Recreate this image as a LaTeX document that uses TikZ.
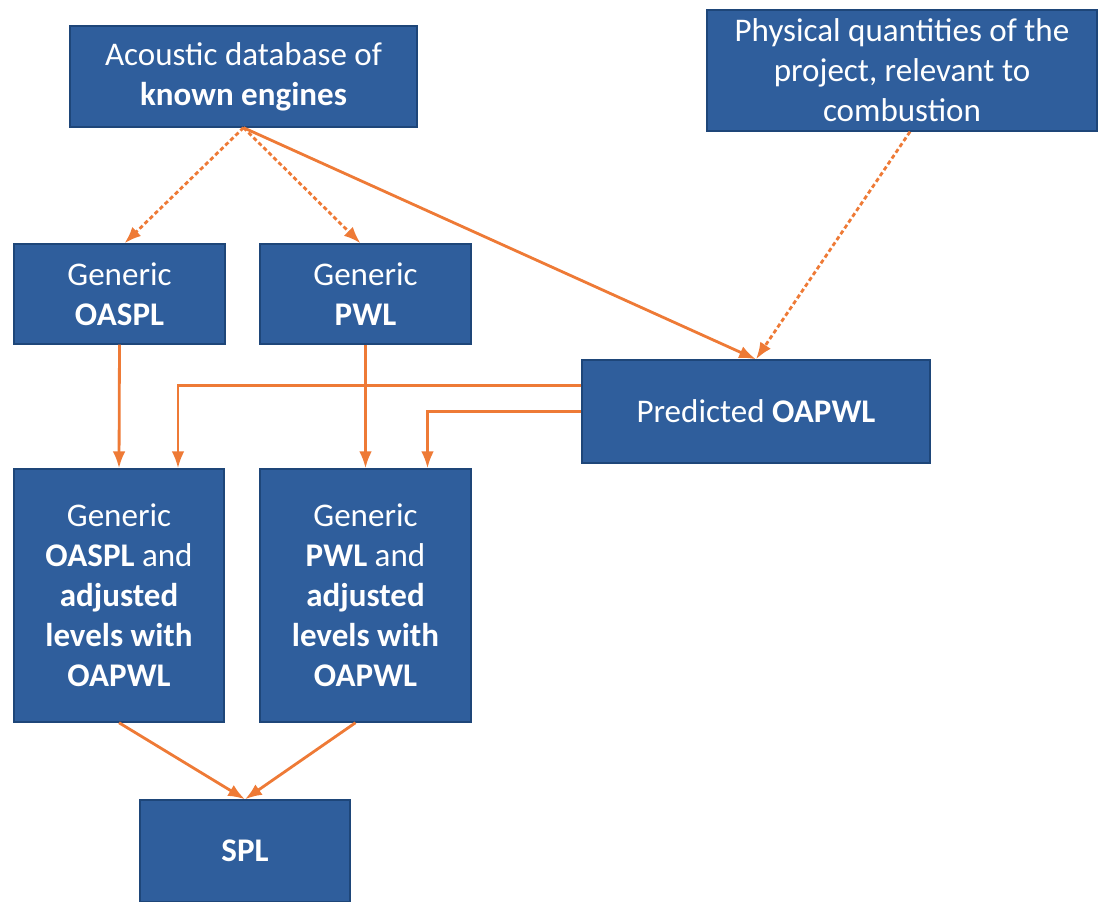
\documentclass[tikz,border=0pt]{standalone}
\usepackage{fontspec}
\setmainfont{Carlito}
\usetikzlibrary{arrows.meta,positioning}
\definecolor{boxblue}{HTML}{2F5E9C}
\definecolor{boxedge}{HTML}{1E4679}
\definecolor{arrorange}{HTML}{EE7A36}

\begin{document}
\begin{tikzpicture}[x=0.025cm,y=-0.025cm,>=Latex,
  font=\fontsize{23.5}{28.5}\selectfont,
  box/.style={draw=boxedge,line width=1pt,fill=boxblue,text=white,
    align=center,inner sep=2pt},
  flow/.style={->,line width=2pt,draw=arrorange},
  dflow/.style={flow,densely dashed}]
\useasboundingbox (0,0) rectangle (1113,902);
\node[box,minimum width=347*0.025cm,minimum height=101*0.025cm] (database) at (243.5,76.5)
  {Acoustic database of\\\textbf{known engines}};
\node[box,minimum width=390*0.025cm,minimum height=121*0.025cm] (physical) at (902,70.5)
  {Physical quantities of the\\project, relevant to\\combustion};
\node[box,minimum width=211*0.025cm,minimum height=100*0.025cm] (oaspl) at (119.5,294)
  {Generic\\\textbf{OASPL}};
\node[box,minimum width=211*0.025cm,minimum height=100*0.025cm] (pwl) at (365.5,294)
  {Generic\\\textbf{PWL}};
\node[box,minimum width=348*0.025cm,minimum height=103*0.025cm] (oapwl) at (756,411.5)
  {Predicted \textbf{OAPWL}};
\node[box,minimum width=210*0.025cm,minimum height=253*0.025cm] (adjoaspl) at (119,595.5)
  {Generic\\\textbf{OASPL} and\\\textbf{adjusted}\\\textbf{levels with}\\\textbf{OAPWL}};
\node[box,minimum width=211*0.025cm,minimum height=253*0.025cm] (adjpwl) at (365.5,595.5)
  {Generic\\\textbf{PWL} and\\\textbf{adjusted}\\\textbf{levels with}\\\textbf{OAPWL}};
\node[box,minimum width=210*0.025cm,minimum height=102*0.025cm] (spl) at (245,851)
  {\textbf{SPL}};
\draw[dflow] (database.south) -- ([xshift=5*0.025cm]oaspl.north);
\draw[dflow] (database.south) -- ([xshift=-5*0.025cm]pwl.north);
\draw[flow] (database.south) -- (oapwl.north);
\draw[dflow] ([xshift=8*0.025cm]physical.south) -- (oapwl.north);
\draw[flow] (oaspl.south) -- (adjoaspl.north);
\draw[flow] (pwl.south) -- (adjpwl.north);
\draw[flow] ([yshift=26*0.025cm]oapwl.west) -| ([xshift=59*0.025cm]adjoaspl.north);
\draw[flow] (oapwl.west) -| ([xshift=62*0.025cm]adjpwl.north);
\draw[flow] (adjoaspl.south) -- (spl.north);
\draw[flow] ([xshift=-10*0.025cm]adjpwl.south) -- (spl.north);
\end{tikzpicture}
\end{document}
